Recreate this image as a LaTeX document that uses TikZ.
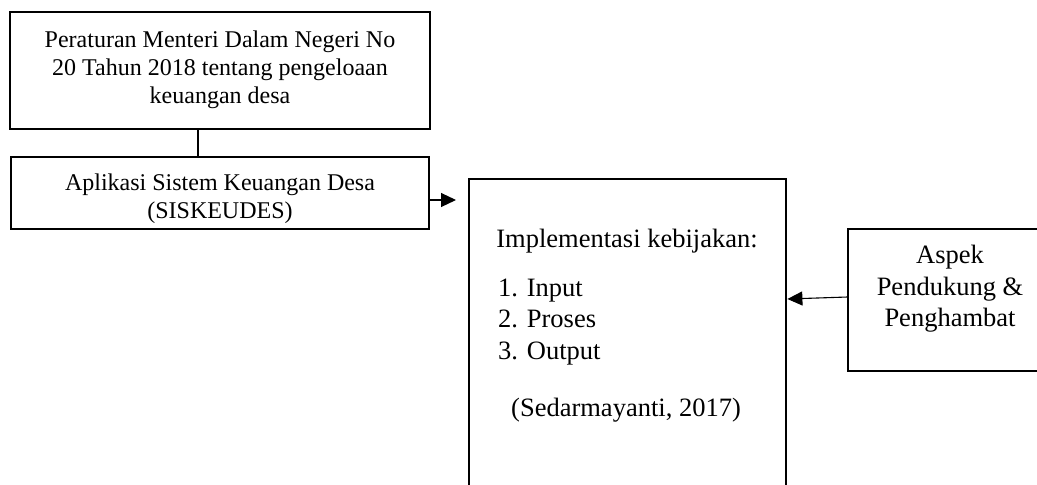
\documentclass[tikz,border=0pt]{standalone}
\usepackage{fontspec}
\setmainfont{Liberation Serif}
\usetikzlibrary{arrows.meta}
\begin{document}
\begin{tikzpicture}[x=1pt,y=-1pt,
  box/.style={draw=black,line width=1.1pt,inner sep=0pt,minimum width=#1},
  lbl/.style={inner sep=0pt,align=center,font=\fontsize{24}{28}\selectfont},
  rlbl/.style={inner sep=0pt,align=center,font=\fontsize{26.5}{31.5}\selectfont},
  arr/.style={line width=1.1pt,-{Triangle[length=15pt,width=14pt]}}]
\useasboundingbox (0,0) rectangle (1037,485);
% left boxes
\node[box=420pt,minimum height=117pt] (b1) at (220,70.5) {};
\node[lbl] (t1) at (220,70) {Peraturan Menteri Dalam Negeri No\\20 Tahun 2018 tentang pengeloaan\\keuangan desa};
\node[box=418pt,minimum height=72pt] (b2) at (220,193) {};
\node[lbl] (t2) at (220,199) {Aplikasi Sistem Keuangan Desa\\(SISKEUDES)};
\draw[line width=1.1pt] ([xshift=-22pt]b1.south) -- ([xshift=-22pt]b2.north);
\coordinate (e2) at (456,200);
\draw[arr] (b2.east |- e2) -- (e2);
% big box
\node[draw=black,line width=2.8pt,inner sep=0pt,minimum width=317pt,minimum height=320pt] (big) at (627.5,339) {};
\node[rlbl] (tt) at (627,241) {Implementasi kebijakan:};
\node[rlbl,align=left,anchor=west] (ls) at (498,322) {1. Input\\2. Proses\\3. Output};
\node[rlbl] (ct) at (626,410) {(Sedarmayanti, 2017)};
% aspek box
\node[box=204pt,minimum height=142pt] (asp) at (950,300) {};
\node[rlbl] (ta) at (950,289) {Aspek\\Pendukung \&\\Penghambat};
\draw[arr] ([yshift=3pt]asp.west) -- ([yshift=40pt]big.east);
\end{tikzpicture}
\end{document}
